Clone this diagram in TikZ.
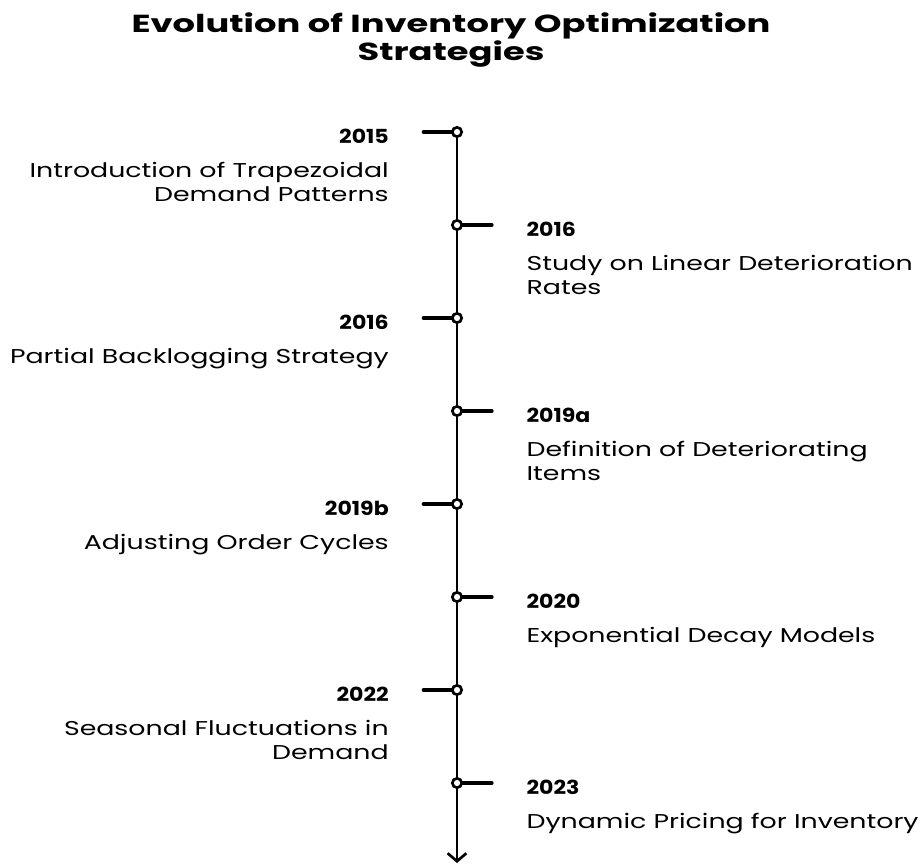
\documentclass[tikz,border=0pt]{standalone}
\usepackage{fontspec}
\setmainfont{Poppins}[FakeStretch=1.34]
\newfontfamily\headfont{Poppins}[FakeStretch=1.43]
\newfontfamily\yearfont{Poppins}[FakeStretch=1.14]
\usetikzlibrary{positioning,arrows.meta}

\begin{document}
\begin{tikzpicture}[x=0.75pt, y=-0.75pt, node distance=69.75pt,
	axis/.style={line width=2.2pt, -{Straight Barb[length=6pt,width=14pt,line width=2pt]}},
	tick/.style={line width=3pt, line cap=round},
	dot/.style={circle, draw, fill=white, line width=2pt, inner sep=0pt, minimum size=7pt},
	yearlabel/.style={inner sep=0pt, font=\yearfont\fontsize{14.5}{16}\selectfont\bfseries},
	lefttext/.style={inner sep=0pt, align=right, font=\fontsize{15}{17.6}\selectfont},
	righttext/.style={inner sep=0pt, align=left, font=\fontsize{15}{17.6}\selectfont},
	title/.style={inner sep=0pt, align=center, font=\headfont\fontsize{18.5}{21}\selectfont\bfseries}]
	\useasboundingbox (0,0) rectangle (924,867);

	\node[title] (title) at (451,40) {Evolution of Inventory Optimization\\Strategies};

	\coordinate (t1) at (457,132);
	\coordinate[below=of t1] (t2);
	\coordinate[below=of t2] (t3);
	\coordinate[below=of t3] (t4);
	\coordinate[below=of t4] (t5);
	\coordinate[below=of t5] (t6);
	\coordinate[below=of t6] (t7);
	\coordinate[below=of t7] (t8);
	\coordinate (tend) at (457,863);

	\coordinate[left=25pt of t1] (s1);
	\coordinate[right=26pt of t2] (s2);
	\coordinate[left=25pt of t3] (s3);
	\coordinate[right=26pt of t4] (s4);
	\coordinate[left=25pt of t5] (s5);
	\coordinate[right=26pt of t6] (s6);
	\coordinate[left=25pt of t7] (s7);
	\coordinate[right=26pt of t8] (s8);

	\node[yearlabel, left=26pt of s1, yshift=-3pt] (y1) {2015};
	\node[lefttext, below=14pt of y1.south east, anchor=north east] (e1) {Introduction of Trapezoidal\\Demand Patterns};
	\node[yearlabel, right=26pt of s2, yshift=-3pt] (y2) {2016};
	\node[righttext, below=14pt of y2.south west, anchor=north west] (e2) {Study on Linear Deterioration\\Rates};
	\node[yearlabel, left=26pt of s3, yshift=-3pt] (y3) {2016};
	\node[lefttext, below=14pt of y3.south east, anchor=north east] (e3) {Partial Backlogging Strategy};
	\node[yearlabel, right=26pt of s4, yshift=-3pt] (y4) {2019a};
	\node[righttext, below=14pt of y4.south west, anchor=north west] (e4) {Definition of Deteriorating\\Items};
	\node[yearlabel, left=26pt of s5, yshift=-3pt] (y5) {2019b};
	\node[lefttext, below=14pt of y5.south east, anchor=north east] (e5) {Adjusting Order Cycles};
	\node[yearlabel, right=26pt of s6, yshift=-3pt] (y6) {2020};
	\node[righttext, below=14pt of y6.south west, anchor=north west] (e6) {Exponential Decay Models};
	\node[yearlabel, left=26pt of s7, yshift=-3pt] (y7) {2022};
	\node[lefttext, below=14pt of y7.south east, anchor=north east] (e7) {Seasonal Fluctuations in\\Demand};
	\node[yearlabel, right=26pt of s8, yshift=-3pt] (y8) {2023};
	\node[righttext, below=14pt of y8.south west, anchor=north west] (e8) {Dynamic Pricing for Inventory};

	\draw[axis] (t1) -- (tend);
	\draw[tick] (s1) -- (t1);
	\draw[tick] (t2) -- (s2);
	\draw[tick] (s3) -- (t3);
	\draw[tick] (t4) -- (s4);
	\draw[tick] (s5) -- (t5);
	\draw[tick] (t6) -- (s6);
	\draw[tick] (s7) -- (t7);
	\draw[tick] (t8) -- (s8);

	\node[dot] (d1) at (t1) {};
	\node[dot] (d2) at (t2) {};
	\node[dot] (d3) at (t3) {};
	\node[dot] (d4) at (t4) {};
	\node[dot] (d5) at (t5) {};
	\node[dot] (d6) at (t6) {};
	\node[dot] (d7) at (t7) {};
	\node[dot] (d8) at (t8) {};
\end{tikzpicture}
\end{document}
